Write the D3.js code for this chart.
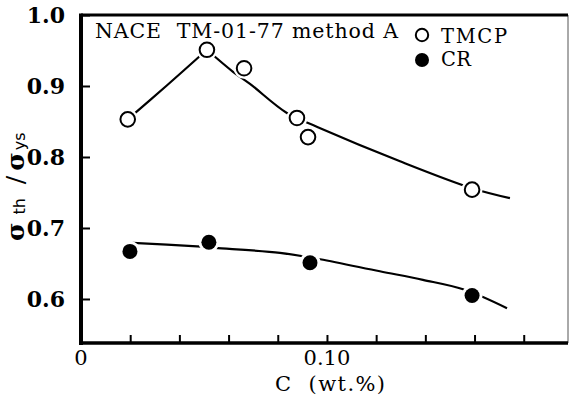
<!DOCTYPE html>
<html><head><meta charset="utf-8">
<script src="https://cdn.jsdelivr.net/npm/d3@7"></script>
<style>body{margin:0;background:#fff}svg{display:block}</style>
</head><body>
<script>
// ---- data ----
const tmcpC = [0.019, 0.0512, 0.0663, 0.0878, 0.0923, 0.159];
const tmcpR = [0.853, 0.951, 0.925, 0.855, 0.828, 0.754];
const crC = [0.0199, 0.052, 0.0931, 0.159];
const crR = [0.667, 0.680, 0.651, 0.605];
// fitted curves
const tmcpFitLeftC = [0.019, 0.035, 0.0512];
const tmcpFitLeftR = [0.853, 0.901, 0.951];
const tmcpFitRightC = [0.0512, 0.0618, 0.0687, 0.0837, 0.0963, 0.1297, 0.159, 0.1744];
const tmcpFitRightR = [0.951, 0.920, 0.903, 0.862, 0.842, 0.794, 0.756, 0.742];
const crFitC = [0.021, 0.0472, 0.0545, 0.0809, 0.0972, 0.1215, 0.139, 0.156, 0.1732];
const crFitR = [0.679, 0.674, 0.672, 0.665, 0.656, 0.639, 0.627, 0.613, 0.587];
const yTicks = [0.6, 0.7, 0.8, 0.9, 1.0];
const yTickLabels = ["0.6", "0.7", "0.8", "0.9", "1.0"];
const xTicks = [0.02, 0.04, 0.06, 0.08, 0.10, 0.12, 0.14, 0.16, 0.18];
const xLabelVals = [0, 0.10];
const xLabelText = ["0", "0.10"];
const seriesNames = ["TMCP", "CR"];
const titleText = "NACE\u00a0\u00a0TM-01-77 method A";

// ---- drawing ----
const W = 569, H = 396;
const svg = d3.select("body").append("svg").attr("width", W).attr("height", H);
const x = d3.scaleLinear().domain([0, 0.198]).range([81, 568]);
const y = d3.scaleLinear().domain([0.538, 1.0]).range([343, 15]);
const serif = "'DejaVu Serif', 'Liberation Serif', serif";
const sans = "'DejaVu Sans', sans-serif";

// frame: thin right border, thick top
svg.append("line").attr("x1", x(0.198)).attr("x2", x(0.198)).attr("y1", y(1.0)).attr("y2", y(0.538))
  .attr("stroke", "#555").attr("stroke-width", 1);
svg.append("line").attr("x1", x(0)).attr("x2", x(0.198)).attr("y1", y(1.0)).attr("y2", y(1.0))
  .attr("stroke", "#000").attr("stroke-width", 3);

// axes
const yAxis = d3.axisLeft(y).tickValues(yTicks).tickSize(-9).tickPadding(16)
  .tickFormat((d, i) => yTickLabels[i]);
const gy = svg.append("g").attr("transform", `translate(${x(0)},0)`).call(yAxis);
gy.select(".domain").remove();
gy.selectAll(".tick line").attr("stroke", "#000").attr("stroke-width", 2);
gy.selectAll(".tick text").attr("font-family", serif).attr("font-size", 22).attr("font-weight", "bold").attr("fill", "#000");

const xAxis = d3.axisBottom(x).tickValues(xTicks).tickSize(-8).tickFormat("");
const gx = svg.append("g").attr("transform", `translate(0,${y(0.538)})`).call(xAxis);
gx.select(".domain").remove();
gx.selectAll(".tick line").attr("stroke", "#000").attr("stroke-width", 2);

svg.append("line").attr("x1", x(0)).attr("x2", x(0)).attr("y1", y(1.0) - 1.5).attr("y2", y(0.538) + 2)
  .attr("stroke", "#000").attr("stroke-width", 4);
svg.append("line").attr("x1", x(0) - 2).attr("x2", x(0.198)).attr("y1", y(0.538)).attr("y2", y(0.538))
  .attr("stroke", "#000").attr("stroke-width", 3.5);

svg.selectAll("text.xl").data(xLabelVals).enter().append("text").attr("class", "xl")
  .attr("x", d => x(d)).attr("y", 365).attr("text-anchor", "middle")
  .attr("font-family", serif).attr("font-size", 21).text((d, i) => xLabelText[i]);

svg.append("text").attr("x", 275).attr("y", 391)
  .attr("font-family", serif).attr("font-size", 21)
  .attr("textLength", 110).attr("lengthAdjust", "spacing").text("C\u00a0\u00a0(wt.%)");

// y label
const yl = svg.append("text").attr("transform", "translate(24,241) rotate(-90)")
  .attr("font-family", serif).attr("font-weight", "bold").attr("font-size", 25);
yl.append("tspan").text("σ");
yl.append("tspan").attr("font-family", sans).attr("font-weight", "normal").attr("font-size", 16).attr("dx", 8).attr("dy", 1).text("th");
yl.append("tspan").attr("dy", -1).attr("dx", 14).attr("font-weight", "normal").text("/");
yl.append("tspan").attr("dx", 5).text("σ");
yl.append("tspan").attr("font-family", sans).attr("font-weight", "normal").attr("font-size", 16).attr("dx", 2).attr("dy", 1).text("ys");

// title
svg.append("text").attr("x", 95).attr("y", 38).attr("font-family", serif).attr("font-size", 20.5)
  .attr("textLength", 303).attr("lengthAdjust", "spacing").text(titleText);

// curves
const line = d3.line().x(d => x(d[0])).y(d => y(d[1])).curve(d3.curveCatmullRom.alpha(0.5));
const curves = [
  d3.zip(tmcpFitLeftC, tmcpFitLeftR),
  d3.zip(tmcpFitRightC, tmcpFitRightR),
  d3.zip(crFitC, crFitR)
];
svg.selectAll("path.fit").data(curves).enter().append("path").attr("class", "fit")
  .attr("d", line).attr("fill", "none").attr("stroke", "#000").attr("stroke-width", 2.2);

// markers with white halo
const tm = d3.zip(tmcpC, tmcpR), cr = d3.zip(crC, crR);
svg.selectAll("circle.halo").data(tm.concat(cr)).enter().append("circle").attr("class", "halo")
  .attr("cx", d => x(d[0])).attr("cy", d => y(d[1])).attr("r", 10.5).attr("fill", "#fff");
svg.selectAll("circle.tm").data(tm).enter().append("circle").attr("class", "tm")
  .attr("cx", d => x(d[0])).attr("cy", d => y(d[1])).attr("r", 7.3)
  .attr("fill", "#fff").attr("stroke", "#000").attr("stroke-width", 2);
svg.selectAll("circle.cr").data(cr).enter().append("circle").attr("class", "cr")
  .attr("cx", d => x(d[0])).attr("cy", d => y(d[1])).attr("r", 7.5).attr("fill", "#000");

// legend
const lg = svg.append("g");
lg.append("circle").attr("cx", 422).attr("cy", 35).attr("r", 6.2).attr("fill", "#fff").attr("stroke", "#000").attr("stroke-width", 2);
lg.append("circle").attr("cx", 422).attr("cy", 60).attr("r", 7).attr("fill", "#000");
const legendLen = [66, 30];
lg.selectAll("text").data(seriesNames).enter().append("text")
  .attr("x", 441).attr("y", (d, i) => 43 + i * 23)
  .attr("font-family", serif).attr("font-size", 19.5)
  .attr("textLength", (d, i) => legendLen[i]).attr("lengthAdjust", "spacing").text(d => d);
</script>
</body></html>
